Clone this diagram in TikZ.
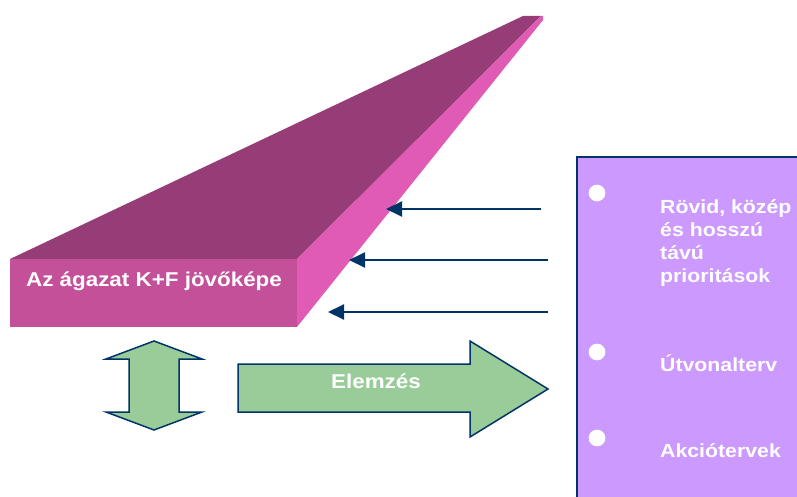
\documentclass[tikz,border=0pt]{standalone}
\usepackage{fontspec}
\newfontfamily\lbl{Liberation Sans}[FakeStretch=1.12]
\usetikzlibrary{arrows.meta}
\definecolor{topface}{RGB}{150,60,119}
\definecolor{frontface}{RGB}{196,80,154}
\definecolor{sideface}{RGB}{224,91,179}
\definecolor{navy}{RGB}{0,51,102}
\definecolor{lgreen}{RGB}{153,204,153}
\definecolor{lpurple}{RGB}{204,153,255}
\tikzset{
  whitetext/.style={text=white, inner sep=0pt, font=\lbl\bfseries\fontsize{#1}{23}\selectfont},
  whitetext/.default=19,
  navyarrow/.style={draw=navy, line width=2pt, -{Triangle[length=16pt,width=15pt]}},
  greenshape/.style={fill=lgreen, draw=navy, line width=1.5pt, line join=miter},
  bulletdot/.style={circle, fill=white, inner sep=0pt, minimum size=16.7pt}
}
\begin{document}
\begin{tikzpicture}[x=1pt,y=-1pt]
\useasboundingbox (0,0) rectangle (797,497);
\clip (0,0) rectangle (797,497);
% wedge (3D bar)
\fill[topface] (10,259) -- (523,16) -- (541,16) -- (297,259) -- cycle;
\fill[sideface] (297,259) -- (541,16) -- (543,16) -- (543,20) -- (297,327) -- cycle;
\fill[frontface] (10,259) rectangle (297,327);
\node[whitetext=20, anchor=base] (vision) at (154,286) {Az ágazat K+F jövőképe};
% right panel
\draw[fill=lpurple, draw=navy, line width=2pt] (577,157) rectangle (820,520);
\node[bulletdot] (b1) at (597,193) {};
\node[bulletdot] (b2) at (597,352) {};
\node[bulletdot] (b3) at (597,438) {};
\node[whitetext, anchor=base west] (t1a) at (660,213) {Rövid, közép};
\node[whitetext, anchor=base west] (t1b) at (660,236) {és hosszú};
\node[whitetext, anchor=base west] (t1c) at (660,259) {távú};
\node[whitetext, anchor=base west] (t1d) at (660,282) {prioritások};
\node[whitetext, anchor=base west] (t2) at (660,371) {Útvonalterv};
\node[whitetext, anchor=base west] (t3) at (660,457) {Akciótervek};
% navy arrows
\coordinate (a1s) at (541,209); \coordinate (a1e) at (386,209);
\coordinate (a2s) at (548,260); \coordinate (a2e) at (349,260);
\coordinate (a3s) at (548,312); \coordinate (a3e) at (328,312);
\draw[navyarrow] (a1s) -- (a1e);
\draw[navyarrow] (a2s) -- (a2e);
\draw[navyarrow] (a3s) -- (a3e);
% vertical double arrow
\draw[greenshape] (154,341) -- (202,359) -- (179,359) -- (179,412) -- (202,412)
  -- (154,430) -- (106,412) -- (129,412) -- (129,359) -- (106,359) -- cycle;
% Elemzes arrow
\draw[greenshape] (238,364) -- (470,364) -- (470,341) -- (548,389) -- (470,437)
  -- (470,412) -- (238,412) -- cycle;
\node[whitetext=20, anchor=base] (elemzes) at (376,388) {Elemzés};
\end{tikzpicture}
\end{document}
